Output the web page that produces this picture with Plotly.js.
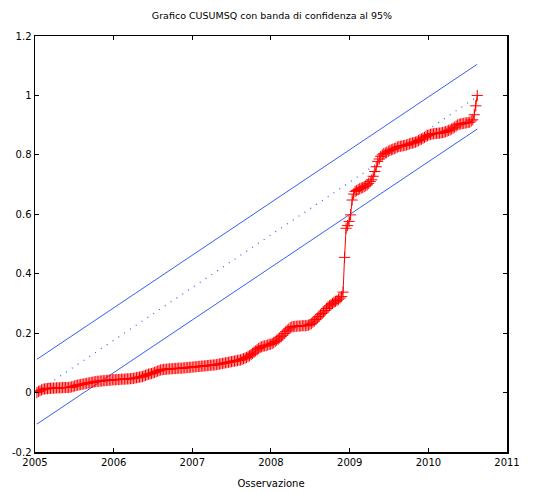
<!DOCTYPE html>
<html>
<head>
<meta charset="utf-8">
<script src="https://cdn.plot.ly/plotly-3.0.1.min.js"></script>
<style>html,body{margin:0;padding:0;background:#fff;}#chart{width:544px;height:493px;}</style>
</head>
<body>
<div id="chart"></div>
<script>
// CUSUMSQ weekly values (first week and step)
var firstWeek = '2005-01-10';
var cusumsq = [
0.000,0.004,0.006,0.009,0.011,0.012,0.013,0.013,0.014,0.014,
0.015,0.015,0.015,0.016,0.016,0.016,0.016,0.017,0.017,0.017,
0.017,0.017,0.018,0.019,0.020,0.022,0.024,0.025,0.026,0.027,
0.028,0.029,0.030,0.031,0.032,0.033,0.034,0.035,0.036,0.037,
0.038,0.038,0.039,0.039,0.040,0.040,0.041,0.041,0.042,0.042,
0.043,0.043,0.043,0.044,0.044,0.044,0.045,0.045,0.045,0.046,
0.046,0.046,0.047,0.047,0.048,0.049,0.050,0.051,0.052,0.053,
0.054,0.056,0.058,0.060,0.062,0.063,0.064,0.066,0.068,0.070,
0.072,0.074,0.076,0.077,0.078,0.078,0.079,0.079,0.080,0.080,
0.080,0.081,0.081,0.081,0.082,0.082,0.082,0.083,0.083,0.084,
0.084,0.085,0.085,0.086,0.086,0.087,0.087,0.088,0.088,0.089,
0.089,0.090,0.090,0.091,0.091,0.092,0.092,0.093,0.093,0.094,
0.095,0.096,0.097,0.098,0.099,0.100,0.101,0.102,0.103,0.104,
0.105,0.106,0.107,0.108,0.109,0.110,0.112,0.114,0.116,0.118,
0.121,0.124,0.128,0.132,0.136,0.140,0.144,0.148,0.152,0.154,
0.156,0.157,0.158,0.160,0.162,0.163,0.165,0.168,0.172,0.176,
0.180,0.184,0.188,0.193,0.199,0.205,0.210,0.214,0.218,0.221,
0.222,0.223,0.223,0.224,0.224,0.224,0.225,0.225,0.225,0.226,
0.227,0.229,0.232,0.237,0.241,0.246,0.251,0.256,0.262,0.266,
0.271,0.276,0.283,0.288,0.292,0.296,0.300,0.304,0.307,0.310,
0.314,0.318,0.323,0.338,0.455,0.553,0.562,0.576,0.598,0.648,
0.668,0.677,0.680,0.683,0.686,0.688,0.690,0.693,0.696,0.699,
0.704,0.710,0.716,0.728,0.744,0.760,0.778,0.786,0.795,0.800,
0.804,0.806,0.809,0.812,0.815,0.817,0.819,0.821,0.823,0.826,
0.828,0.829,0.830,0.831,0.832,0.833,0.835,0.837,0.839,0.840,
0.841,0.843,0.845,0.848,0.851,0.853,0.856,0.859,0.862,0.865,
0.867,0.869,0.870,0.871,0.872,0.872,0.873,0.873,0.874,0.875,
0.876,0.878,0.880,0.882,0.884,0.887,0.890,0.893,0.897,0.901,
0.903,0.904,0.905,0.906,0.907,0.908,0.909,0.910,0.914,0.918,
0.935,0.965,1.000
];
// confidence band endpoints
var bandDates = ['2005-01-10', '2010-08-16'];
var bandUpper = [0.112, 1.105];
var bandLower = [-0.106, 0.887];
var bandMid = [0.003, 0.996];
// axis ticks
var yTickVals = [-0.2, 0, 0.2, 0.4, 0.6, 0.8, 1, 1.2];
var yTickText = ['-0.2', '0', '0.2', '0.4', '0.6', '0.8', '1', '1.2'];
var xTickVals = ['2005-01-01','2006-01-01','2007-01-01','2008-01-01','2009-01-01','2010-01-01','2011-01-01'];
var xTickText = ['2005','2006','2007','2008','2009','2010','2011'];

var blue = '#3a5cf5';
var traces = [
  {x: bandDates, y: bandUpper, mode: 'lines', line: {color: blue, width: 1}, hoverinfo: 'skip'},
  {x: bandDates, y: bandLower, mode: 'lines', line: {color: blue, width: 1}, hoverinfo: 'skip'},
  {x: bandDates, y: bandMid, mode: 'lines', line: {color: blue, width: 1.2, dash: '1px,6px'}, hoverinfo: 'skip'},
  {y: cusumsq, x0: firstWeek, dx: 7*24*3600*1000, type: 'scatter', mode: 'lines+markers',
   line: {color: '#ff0000', width: 1},
   marker: {symbol: 'cross-thin', size: 8, line: {color: '#ff0000', width: 1}}}
];
var axisFont = {family: 'DejaVu Sans', size: 10, color: '#000'};
var layout = {
  width: 544, height: 493,
  margin: {l: 35, r: 37, t: 36, b: 41},
  showlegend: false,
  paper_bgcolor: '#fff', plot_bgcolor: '#fff',
  title: {text: 'Grafico CUSUMSQ con banda di confidenza al 95%', font: {family: 'DejaVu Sans', size: 9.5, color: '#000'}, x: 0.5, xanchor: 'center', y: 0.968, yanchor: 'middle'},
  xaxis: {
    type: 'date', range: ['2005-01-01', '2011-01-01'],
    tickmode: 'array', tickvals: xTickVals, ticktext: xTickText,
    ticks: 'inside', ticklen: 4, tickwidth: 1, tickcolor: '#000',
    showline: true, linecolor: '#000', linewidth: 1.5, mirror: 'ticks',
    showgrid: false, zeroline: false, tickfont: axisFont,
    title: {text: 'Osservazione', font: axisFont, standoff: 13}
  },
  yaxis: {
    range: [-0.2, 1.2],
    tickmode: 'array', tickvals: yTickVals, ticktext: yTickText,
    ticks: 'inside', ticklen: 4, tickwidth: 1, tickcolor: '#000',
    showline: true, linecolor: '#000', linewidth: 1.5, mirror: 'ticks',
    showgrid: false, zeroline: false, tickfont: axisFont
  }
};
Plotly.newPlot('chart', traces, layout, {staticPlot: true, displayModeBar: false});
</script>
</body>
</html>
